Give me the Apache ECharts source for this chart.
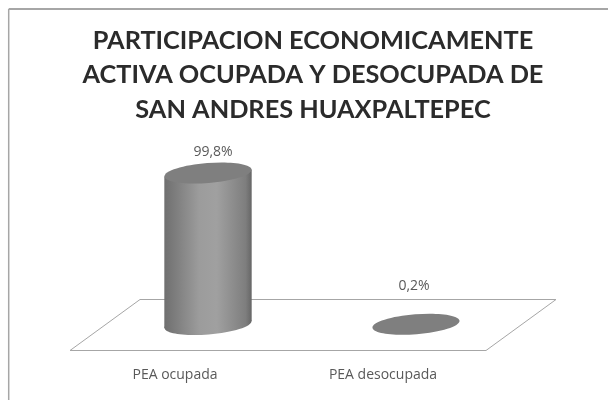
<!DOCTYPE html>
<html>
<head>
<meta charset="utf-8">
<style>
  html, body { margin: 0; padding: 0; background: #fff; }
  #main { width: 608px; height: 400px; }
</style>
<script src="https://cdn.jsdelivr.net/npm/echarts@6/dist/echarts.min.js"></script>
</head>
<body>
<div id="main"></div>
<script>
var titleLines = ['PARTICIPACION ECONOMICAMENTE', 'ACTIVA OCUPADA Y DESOCUPADA DE', 'SAN ANDRES HUAXPALTEPEC'];
var categories = ['PEA ocupada', 'PEA desocupada'];
var values = [99.8, 0.2];
var valueLabels = ['99,8%', '0,2%'];

// the labels sit off-centre in the original, it is a sheared 3d chart
var labelShift = [[5, -21], [-2, -38]];

var myChart = echarts.init(document.getElementById('main'));

var bodyGradient = {
    type: 'linear', x: 0, y: 0, x2: 1, y2: 0,
    colorStops: [
        { offset: 0, color: '#6f6f6f' },
        { offset: 0.4, color: '#9c9c9c' },
        { offset: 0.6, color: '#a0a0a0' },
        { offset: 0.93, color: '#7e7e7e' },
        { offset: 1, color: '#666666' }
    ]
};

function renderCylinder(params, api) {
    var i = api.value(0);
    var top = api.coord([i, api.value(1)]);
    var base = api.coord([i, 0]);
    var rx = api.size([1, 0])[0] * 0.21;
    var ry = 10;
    var tilt = 3.5;
    var children = [];
    // tilted ellipse, rotation is in radians
    function disc(y, fill) {
        return {
            type: 'ellipse',
            x: top[0], y: y, rotation: 0.08,
            shape: { cx: 0, cy: 0, rx: rx, ry: ry },
            style: { fill: fill }
        };
    }
    if (base[1] - top[1] > 2) {
        children.push(disc(base[1], bodyGradient));
        children.push({
            type: 'polygon',
            shape: {
                points: [
                    [top[0] - rx, top[1] + tilt],
                    [top[0] + rx, top[1] - tilt],
                    [top[0] + rx, base[1] - tilt],
                    [top[0] - rx, base[1] + tilt]
                ]
            },
            style: { fill: bodyGradient }
        });
    }
    children.push(disc(top[1], '#7f7f7f'));
    children.push({
        type: 'text',
        x: top[0] + labelShift[i][0],
        y: top[1] + labelShift[i][1],
        style: {
            text: valueLabels[i],
            fill: '#595959',
            font: '14px "Open Sans"',
            align: 'center',
            verticalAlign: 'middle'
        }
    });
    return { type: 'group', children: children };
}

option = {
    backgroundColor: '#FFFFFF',
    animation: false,
    title: {
        text: titleLines.join('\n'),
        left: 308,
        textAlign: 'center',
        top: 18.5,
        textStyle: {
            fontFamily: 'Lato',
            fontSize: 25.3,
            fontWeight: 'bold',
            color: '#2b2b2b',
            lineHeight: 34.5
        }
    },
    graphic: [
        // frame, only top and left are visible in the picture
        { type: 'line', z: 0, shape: { x1: 8.7, y1: 9, x2: 608, y2: 9 }, style: { stroke: '#a6a6a6', lineWidth: 2 } },
        { type: 'line', z: 0, shape: { x1: 8.7, y1: 9, x2: 8.7, y2: 400 }, style: { stroke: '#a6a6a6', lineWidth: 1.5 } },
        // floor of the 3d chart
        {
            type: 'polygon', z: 0,
            shape: { points: [[140, 299.5], [556, 299.5], [486, 350.5], [70, 350.5]] },
            style: { fill: '#fff', stroke: '#a6a6a6', lineWidth: 1 }
        }
    ],
    grid: [
        { left: 104, width: 416, top: 172.7, height: 151.8 },
        { left: 71, width: 416, top: 172.7, height: 151.8 }
    ],
    xAxis: [
        {
            type: 'category', gridIndex: 0, data: categories,
            axisLine: { show: false }, axisTick: { show: false }, axisLabel: { show: false }
        },
        {
            type: 'category', gridIndex: 1, data: categories,
            axisLine: { show: false }, axisTick: { show: false },
            axisLabel: { margin: 44, color: '#595959', fontSize: 14, fontFamily: 'Open Sans' }
        }
    ],
    yAxis: [
        { type: 'value', gridIndex: 0, min: 0, max: 100, show: false },
        { type: 'value', gridIndex: 1, min: 0, max: 100, show: false }
    ],
    series: [{
        type: 'custom',
        xAxisIndex: 0,
        yAxisIndex: 0,
        z: 5,
        encode: { x: 0, y: 1 },
        data: values.map(function (v, i) { return [i, v]; }),
        renderItem: renderCylinder
    }]
};

myChart.setOption(option);
</script>
</body>
</html>
